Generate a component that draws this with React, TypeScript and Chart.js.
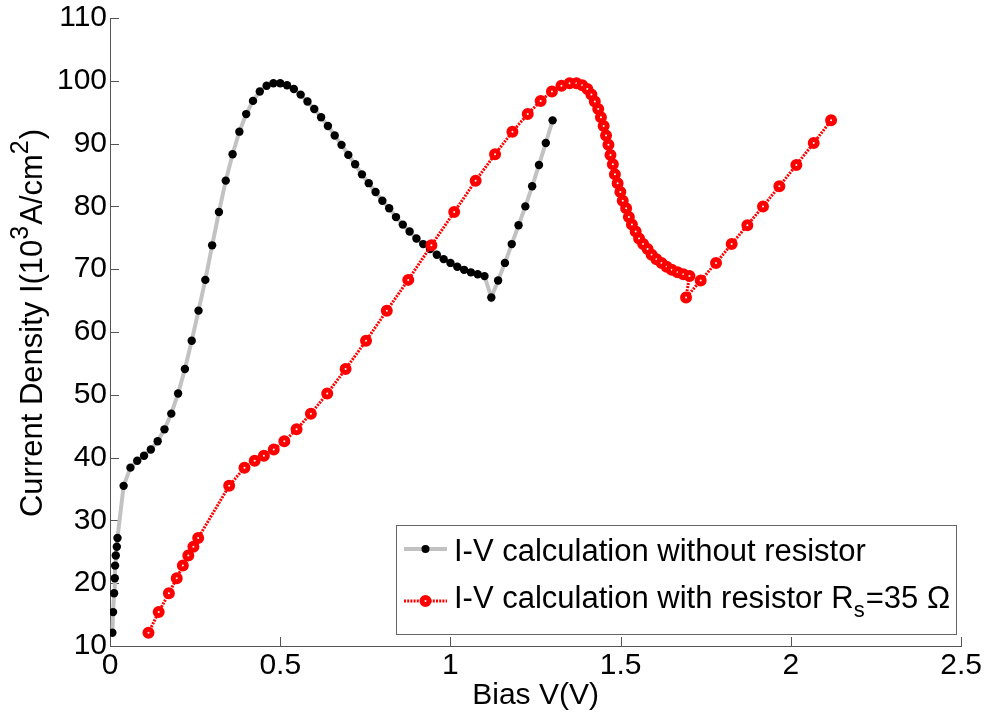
import React, { useEffect, useRef } from "react";
import { Chart, registerables } from "chart.js";

Chart.register(...registerables);

// ---- data ----
const biasNoR = [
  0.007, 0.009, 0.012, 0.014, 0.015, 0.017, 0.02, 0.022,
  0.04, 0.06, 0.08, 0.1, 0.12, 0.14, 0.16, 0.18, 0.2, 0.22,
  0.24, 0.26, 0.28, 0.3, 0.32, 0.34, 0.36, 0.38, 0.4, 0.42,
  0.44, 0.46, 0.48, 0.5, 0.52, 0.54, 0.56, 0.58, 0.6, 0.62,
  0.64, 0.66, 0.68, 0.7, 0.72, 0.74, 0.76, 0.78, 0.8, 0.82,
  0.84, 0.86, 0.88, 0.9, 0.92, 0.94, 0.96, 0.98, 1.0, 1.02,
  1.04, 1.06, 1.08, 1.1, 1.12, 1.14, 1.16, 1.18, 1.2, 1.22,
  1.24, 1.26, 1.28, 1.3,
];
const currentNoR = [
  12.1, 15.4, 18.4, 20.8, 22.8, 24.4, 25.8, 27.2,
  35.5, 38.4, 39.5, 40.3, 41.3, 42.6, 44.5, 47.0, 50.2, 54.1,
  58.6, 63.4, 68.3, 73.8, 79.1, 84.1, 88.3, 91.9, 94.7, 96.8,
  98.3, 99.2, 99.6, 99.6, 99.3, 98.7, 97.8, 96.7, 95.5, 94.2,
  92.8, 91.3, 89.8, 88.2, 86.7, 85.1, 83.7, 82.3, 80.9, 79.7,
  78.3, 77.1, 76.0, 74.9, 74.0, 73.2, 72.3, 71.6, 71.0, 70.4,
  69.9, 69.5, 69.2, 68.9, 65.5, 68.2, 71.0, 74.0, 77.0, 80.0,
  83.2, 86.6, 90.1, 93.7,
];
const biasWithR = [
  0.113, 0.143, 0.173, 0.196, 0.214, 0.23, 0.245, 0.259,
  0.35, 0.395, 0.425, 0.452, 0.481, 0.512, 0.548, 0.59, 0.638, 0.692,
  0.752, 0.813, 0.876, 0.944, 1.011, 1.074, 1.131, 1.182, 1.227, 1.265,
  1.298, 1.326, 1.35, 1.37, 1.387, 1.402, 1.414, 1.424, 1.434, 1.442,
  1.45, 1.457, 1.464, 1.47, 1.477, 1.483, 1.491, 1.499, 1.506, 1.516,
  1.524, 1.533, 1.544, 1.554, 1.566, 1.579, 1.591, 1.605, 1.62, 1.635,
  1.65, 1.667, 1.684, 1.702, 1.692, 1.735, 1.78, 1.826, 1.872, 1.918,
  1.966, 2.016, 2.067, 2.118,
];
const currentWithR = [
  12.1, 15.4, 18.4, 20.8, 22.8, 24.4, 25.8, 27.2,
  35.5, 38.4, 39.5, 40.3, 41.3, 42.6, 44.5, 47.0, 50.2, 54.1,
  58.6, 63.4, 68.3, 73.8, 79.1, 84.1, 88.3, 91.9, 94.7, 96.8,
  98.3, 99.2, 99.6, 99.6, 99.3, 98.7, 97.8, 96.7, 95.5, 94.2,
  92.8, 91.3, 89.8, 88.2, 86.7, 85.1, 83.7, 82.3, 80.9, 79.7,
  78.3, 77.1, 76.0, 74.9, 74.0, 73.2, 72.3, 71.6, 71.0, 70.4,
  69.9, 69.5, 69.2, 68.9, 65.5, 68.2, 71.0, 74.0, 77.0, 80.0,
  83.2, 86.6, 90.1, 93.7,
];
const xRange = [0, 2.5];
const xStep = 0.5;
const yRange = [10, 110];
const yStep = 10;
const xTitle = "Bias V(V)";
// y title pieces: [text, isSuperscript]
const yTitleParts: [string, boolean][] = [
  ["Current Density I(10", false],
  ["3", true],
  ["A/cm", false],
  ["2", true],
  [")", false],
];
// legend pieces: [text, isSubscript]
const legendRow1: [string, boolean][] = [["I-V calculation without resistor", false]];
const legendRow2: [string, boolean][] = [
  ["I-V calculation with resistor R", false],
  ["s", true],
  ["=35 \u03A9", false],
];

const FONT = "'Liberation Sans', Arial, Helvetica, sans-serif";
const AXIS_COLOR = "#555555";
const GRAY_LINE = "#c2c2c2";
const RED = "#ff0000";

function drawRich(
  ctx: CanvasRenderingContext2D,
  parts: [string, boolean][],
  x: number,
  y: number,
  size: number,
  smallRatio: number,
  shift: number,
  center: boolean
) {
  const small = Math.round(size * smallRatio);
  let total = 0;
  parts.forEach(([t, s]) => {
    ctx.font = `${s ? small : size}px ${FONT}`;
    total += ctx.measureText(t).width;
  });
  let cx = center ? x - total / 2 : x;
  ctx.textBaseline = "alphabetic";
  ctx.textAlign = "left";
  parts.forEach(([t, s]) => {
    ctx.font = `${s ? small : size}px ${FONT}`;
    ctx.fillText(t, cx, s ? y + shift : y);
    cx += ctx.measureText(t).width + (s ? 1 : 0);
  });
}

const decorPlugin = {
  id: "decor",
  beforeDatasetsDraw(chart: any) {
    const { ctx, scales, chartArea } = chart;
    const xs = scales.x;
    const ys = scales.y;
    ctx.save();
    ctx.strokeStyle = AXIS_COLOR;
    ctx.lineWidth = 1;
    ctx.beginPath();
    xs.ticks.forEach((t: any) => {
      const px = Math.round(xs.getPixelForValue(t.value)) + 0.5;
      ctx.moveTo(px, chartArea.bottom);
      ctx.lineTo(px, chartArea.bottom - 9);
    });
    ys.ticks.forEach((t: any) => {
      const py = Math.round(ys.getPixelForValue(t.value)) + 0.5;
      ctx.moveTo(chartArea.left, py);
      ctx.lineTo(chartArea.left + 9, py);
    });
    ctx.stroke();
    ctx.restore();
  },
  afterDraw(chart: any) {
    const { ctx } = chart;
    // y axis title with superscripts
    ctx.save();
    ctx.fillStyle = "#000";
    ctx.translate(42, 324);
    ctx.rotate(-Math.PI / 2);
    drawRich(ctx, yTitleParts, 0, 0, 31, 0.8, -14, true);
    ctx.restore();

    // legend box
    const bx = 396, by = 525, bw = 560, bh = 109;
    ctx.save();
    ctx.fillStyle = "#fff";
    ctx.fillRect(bx, by, bw, bh);
    ctx.strokeStyle = "#666";
    ctx.lineWidth = 1;
    ctx.strokeRect(bx + 0.5, by + 0.5, bw, bh);

    const rows = [549, 601];
    // row 1 sample
    ctx.strokeStyle = GRAY_LINE;
    ctx.lineWidth = 4;
    ctx.beginPath();
    ctx.moveTo(404, rows[0]);
    ctx.lineTo(447, rows[0]);
    ctx.stroke();
    ctx.fillStyle = "#000";
    ctx.beginPath();
    ctx.arc(425.5, rows[0], 4, 0, Math.PI * 2);
    ctx.fill();
    // row 2 sample
    ctx.strokeStyle = RED;
    ctx.lineWidth = 3;
    ctx.setLineDash([2, 1.2]);
    ctx.beginPath();
    ctx.moveTo(404, rows[1]);
    ctx.lineTo(447, rows[1]);
    ctx.stroke();
    ctx.setLineDash([]);
    ctx.fillStyle = "#fff";
    ctx.lineWidth = 5;
    ctx.beginPath();
    ctx.arc(425.5, rows[1], 3.5, 0, Math.PI * 2);
    ctx.fill();
    ctx.stroke();

    ctx.fillStyle = "#000";
    drawRich(ctx, legendRow1, 454, 561, 31, 0.7, 0, false);
    drawRich(ctx, legendRow2, 454, 608, 31, 0.7, 9, false);
    ctx.restore();
  },
};

export default function App() {
  const ref = useRef<HTMLCanvasElement | null>(null);
  useEffect(() => {
    document.body.style.margin = "0";
    if (!ref.current) return;
    const tickFont = { family: FONT, size: 30, lineHeight: 1 };
    const chart = new Chart(ref.current, {
      type: "line",
      data: {
        datasets: [
          {
            label: "I-V calculation without resistor",
            data: biasNoR.map((v, i) => ({ x: v, y: currentNoR[i] })),
            borderColor: GRAY_LINE,
            borderWidth: 4,
            pointRadius: 4.2,
            pointBorderWidth: 0,
            pointBackgroundColor: "#000",
            pointBorderColor: "#000",
            fill: false,
            tension: 0,
            order: 1,
          },
          {
            label: "I-V calculation with resistor Rs=35 \u03A9",
            data: biasWithR.map((v, i) => ({ x: v, y: currentWithR[i] })),
            borderColor: RED,
            borderWidth: 3,
            borderDash: [2, 1.2],
            pointRadius: 3.5,
            pointBorderWidth: 5,
            pointBackgroundColor: "#fff",
            pointBorderColor: RED,
            fill: false,
            tension: 0,
            order: 0,
          },
        ],
      },
      options: {
        animation: false,
        responsive: false,
        events: [],
        layout: { padding: { top: 15, right: 25, left: 0, bottom: 0 } },
        plugins: { legend: { display: false }, tooltip: { enabled: false } },
        scales: {
          x: {
            type: "linear",
            min: xRange[0],
            max: xRange[1],
            ticks: {
              stepSize: xStep,
              font: tickFont,
              color: "#000",
              padding: 5,
              maxRotation: 0,
              callback: (v: any) => String(Number(v)),
            },
            grid: { display: false, drawTicks: false },
            border: { display: true, color: AXIS_COLOR, width: 1 },
            title: {
              display: true,
              text: xTitle,
              color: "#000",
              font: { family: FONT, size: 30, lineHeight: 1.2 },
              padding: { top: 0, bottom: 5 },
            },
            afterFit: (s: any) => {
              s.height = 73;
            },
          },
          y: {
            type: "linear",
            min: yRange[0],
            max: yRange[1],
            ticks: {
              stepSize: yStep,
              font: tickFont,
              color: "#000",
              padding: 3,
              callback: (v: any) => String(Number(v)),
            },
            grid: { display: false, drawTicks: false },
            border: { display: true, color: AXIS_COLOR, width: 1 },
            afterFit: (s: any) => {
              s.width = 110;
            },
          },
        },
      } as any,
      plugins: [decorPlugin],
    });
    return () => chart.destroy();
  }, []);
  return <canvas ref={ref} width={987} height={719} style={{ display: "block" }} />;
}
